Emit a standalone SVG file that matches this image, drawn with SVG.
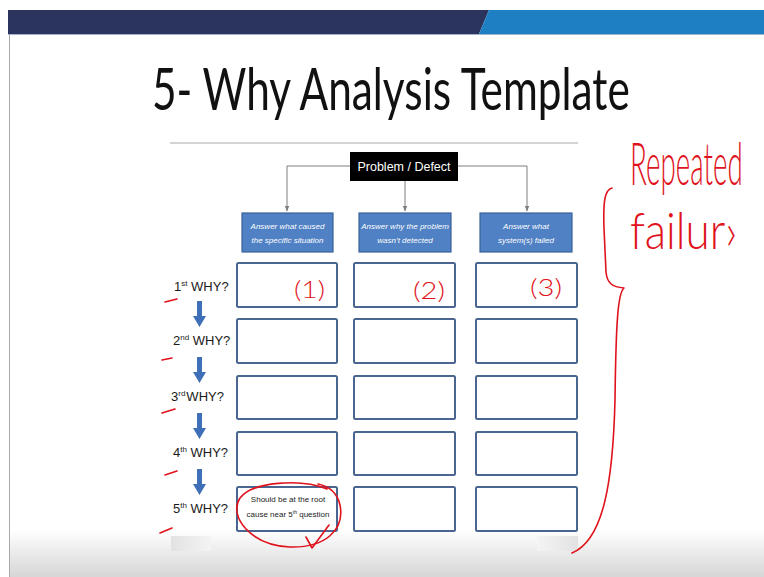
<svg xmlns="http://www.w3.org/2000/svg" width="764" height="577" viewBox="0 0 764 577">
<style>
.cell{fill:#ffffff;stroke:#4a6690;stroke-width:2}
.blue{fill:#4f81c4;stroke:#3a6298;stroke-width:1.2}
.btxt{font-family:"Liberation Sans",Arial,sans-serif;font-size:8px;font-style:italic;fill:#ffffff;text-anchor:middle}
.why{font-family:"Liberation Sans",Arial,sans-serif;font-size:13px;fill:#1a1a1a}
.sup{font-size:8px}
.conn{stroke:#7f7f7f;stroke-width:1;fill:none}
.ink{stroke:#e0121c;stroke-width:1.6;fill:none;stroke-linecap:round;stroke-linejoin:round}
.hand{font-family:Lato,"Liberation Sans",sans-serif;font-weight:300;fill:#e0121c}
.darr{fill:#3f6fb6}
</style>
<defs>
<marker id="ah" viewBox="0 0 10 10" refX="9" refY="5" markerWidth="6" markerHeight="6" orient="auto">
<path d="M0,1 L10,5 L0,9 z" fill="#7f7f7f"/>
</marker>
<linearGradient id="floor" x1="0" y1="0" x2="0" y2="1">
<stop offset="0" stop-color="#ffffff"/>
<stop offset="1" stop-color="#d6d6d6"/>
</linearGradient>
<linearGradient id="shade" x1="0" y1="0" x2="1" y2="0">
<stop offset="0" stop-color="#e2e2e2"/>
<stop offset="1" stop-color="#f4f4f4"/>
</linearGradient>
<linearGradient id="shade2" x1="0" y1="0" x2="1" y2="0">
<stop offset="0" stop-color="#f4f4f4"/>
<stop offset="1" stop-color="#e2e2e2"/>
</linearGradient>
</defs>

<rect x="0" y="0" width="764" height="577" fill="#ffffff"/>
<rect x="9" y="530" width="755" height="47" fill="url(#floor)"/>
<line x1="9.5" y1="34" x2="9.5" y2="577" stroke="#a8a8a8" stroke-width="1"/>

<g id="header">
<polygon points="8,10 489,10 479,34 8,34" fill="#2b345c"/>
<polygon points="489,10 764,10 764,34 479,34" fill="#1e7fc3"/>
<line x1="8" y1="34.5" x2="764" y2="34.5" stroke="#9fb4cf" stroke-width="1"/>
</g>

<g id="title">
<g transform="translate(152,110) scale(0.75,1)">
<text x="0" y="0" font-family="Lato,'Liberation Sans',sans-serif" font-size="58" fill="#111111" textLength="637" lengthAdjust="spacingAndGlyphs">5- Why Analysis Template</text>
</g>
<line x1="170" y1="143" x2="578" y2="143" stroke="#d4d4d4" stroke-width="2"/>
</g>

<rect x="171" y="536" width="40" height="15" fill="url(#shade)"/>
<rect x="537" y="536" width="41" height="15" fill="url(#shade2)"/>

<g id="connectors">
<path class="conn" d="M350,166 H287 V211" marker-end="url(#ah)"/>
<path class="conn" d="M405,181 V211" marker-end="url(#ah)"/>
<path class="conn" d="M458,166 H527 V211" marker-end="url(#ah)"/>
</g>

<g id="problem">
<rect x="350" y="152" width="108" height="29" fill="#000000"/>
<text x="404" y="171" font-family="'Liberation Sans',Arial,sans-serif" font-size="12.5" fill="#ffffff" text-anchor="middle">Problem / Defect</text>
</g>

<g id="head1">
<rect class="blue" x="242" y="213" width="91" height="39"/>
<text class="btxt" x="287.5" y="229">Answer what caused</text>
<text class="btxt" x="287.5" y="243">the specific situation</text>
</g>
<g id="head2">
<rect class="blue" x="359" y="213" width="92" height="39"/>
<text class="btxt" x="405" y="229">Answer why the problem</text>
<text class="btxt" x="405" y="243">wasn’t detected</text>
</g>
<g id="head3">
<rect class="blue" x="480" y="213" width="92" height="39"/>
<text class="btxt" x="526" y="229">Answer what</text>
<text class="btxt" x="526" y="243">system(s) failed</text>
</g>

<g id="labels">
<text class="why" x="174" y="291">1<tspan class="sup" dy="-5">st</tspan><tspan dy="5"> WHY?</tspan></text>
<text class="why" x="173" y="345">2<tspan class="sup" dy="-5">nd</tspan><tspan dy="5"> WHY?</tspan></text>
<text class="why" x="171" y="401">3<tspan class="sup" dy="-5">rd</tspan><tspan dy="5" dx="1">WHY?</tspan></text>
<text class="why" x="173" y="457">4<tspan class="sup" dy="-5">th</tspan><tspan dy="5"> WHY?</tspan></text>
<text class="why" x="173" y="513">5<tspan class="sup" dy="-5">th</tspan><tspan dy="5"> WHY?</tspan></text>
</g>

<g id="down-arrows">
<path class="darr" d="M197,301 h5 v15 h4 l-6.5,11 l-6.5,-11 h4 z"/>
<path class="darr" d="M197,357 h5 v15 h4 l-6.5,11 l-6.5,-11 h4 z"/>
<path class="darr" d="M197,413 h5 v15 h4 l-6.5,11 l-6.5,-11 h4 z"/>
<path class="darr" d="M197,469 h5 v15 h4 l-6.5,11 l-6.5,-11 h4 z"/>
</g>

<g id="grid">
<rect class="cell" x="237" y="263" width="100" height="44" rx="1.5"/>
<rect class="cell" x="354" y="263" width="101" height="44" rx="1.5"/>
<rect class="cell" x="476" y="263" width="101" height="44" rx="1.5"/>
<rect class="cell" x="237" y="319" width="100" height="44" rx="1.5"/>
<rect class="cell" x="354" y="319" width="101" height="44" rx="1.5"/>
<rect class="cell" x="476" y="319" width="101" height="44" rx="1.5"/>
<rect class="cell" x="237" y="376" width="100" height="43" rx="1.5"/>
<rect class="cell" x="354" y="376" width="101" height="43" rx="1.5"/>
<rect class="cell" x="476" y="376" width="101" height="43" rx="1.5"/>
<rect class="cell" x="237" y="432" width="100" height="43" rx="1.5"/>
<rect class="cell" x="354" y="432" width="101" height="43" rx="1.5"/>
<rect class="cell" x="476" y="432" width="101" height="43" rx="1.5"/>
<rect class="cell" x="237" y="487" width="100" height="44" rx="1.5"/>
<rect class="cell" x="354" y="487" width="101" height="44" rx="1.5"/>
<rect class="cell" x="476" y="487" width="101" height="44" rx="1.5"/>
<text x="288" y="502" font-family="'Liberation Sans',Arial,sans-serif" font-size="8" fill="#222222" text-anchor="middle">Should be at the root</text>
<text x="288" y="517" font-family="'Liberation Sans',Arial,sans-serif" font-size="8" fill="#222222" text-anchor="middle">cause near 5<tspan font-size="5" dy="-3">th</tspan><tspan dy="3"> question</tspan></text>
</g>

<g id="annotations">
<path class="ink" d="M165,302 L177,299"/>
<path class="ink" d="M162,360 L172,358"/>
<path class="ink" d="M162,413 L175,409"/>
<path class="ink" d="M165,475 L177,471"/>
<path class="ink" d="M160,533 L172,528"/>
<text class="hand" x="294" y="298" font-size="24" textLength="31" lengthAdjust="spacingAndGlyphs">(1)</text>
<text class="hand" x="413" y="299" font-size="24" textLength="32" lengthAdjust="spacingAndGlyphs">(2)</text>
<text class="hand" x="530" y="296" font-size="24" textLength="32" lengthAdjust="spacingAndGlyphs">(3)</text>
<path class="ink" d="M327,489 C300,478 252,482 240,498 C228,516 250,545 290,547 C325,548 345,530 340,505 C337,492 328,486 318,484"/>
<path class="ink" d="M306,537 L312,548 L329,525"/>
<path class="ink" d="M612,188 C605,190 603,200 604,228 L606,272 C607,283 612,287 624,288 C618,293 616,320 615,400 C613,480 604,540 572,553"/>
<g transform="translate(630,185) scale(0.46,1)">
<text class="hand" x="0" y="0" font-size="60" textLength="245" lengthAdjust="spacingAndGlyphs">Repeated</text>
</g>
<g transform="translate(630,249) scale(0.8,1)">
<text class="hand" x="0" y="0" font-size="52" textLength="134" lengthAdjust="spacingAndGlyphs">failur›</text>
</g>
</g>
</svg>
